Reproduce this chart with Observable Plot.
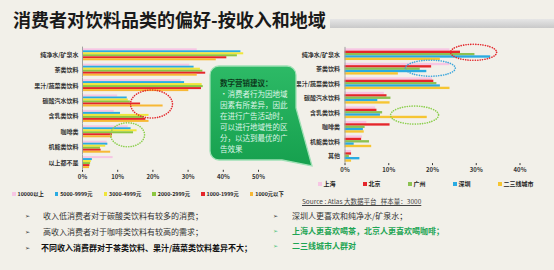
<!DOCTYPE html>
<html><head><meta charset="utf-8">
<script src="https://cdn.jsdelivr.net/npm/d3@7"></script>
<script src="https://cdn.jsdelivr.net/npm/@observablehq/plot@0.6"></script>
<style>
html,body{margin:0;padding:0;background:#f2f0e9;}
#root{position:relative;width:554px;height:270px;overflow:hidden;background:#f2f0e9;font-family:"Noto Sans CJK SC","Noto Sans",sans-serif;}
.abs{position:absolute;white-space:nowrap;}
#title{left:13px;top:10px;font-size:18px;font-weight:bold;color:#1a1a1a;line-height:18px;}
#titlebar{left:330px;top:19px;width:224px;height:9px;background:linear-gradient(#e6e6e6,#c9c9c9);}
.chart{position:absolute;}
.legend{position:absolute;font-size:5.3px;font-weight:bold;color:#222;line-height:8px;display:flex;align-items:center;}
.legend .it{display:flex;align-items:center;}
.legend .sw{width:3.5px;height:3.5px;margin-right:2px;display:inline-block;}
#box{position:absolute;left:0;top:0;pointer-events:none;}
.boxt{position:absolute;font-size:7.5px;line-height:11px;color:#dff5e8;white-space:nowrap;}
#source{left:302px;top:196px;font-size:6.5px;color:#444;text-decoration:underline;line-height:10px;}
.bl{position:absolute;font-size:8px;line-height:10px;color:#333;white-space:nowrap;}
.ar{position:absolute;font-size:6px;line-height:10px;color:#333;font-family:"DejaVu Sans",sans-serif;}
</style></head><body><div id="root">
<div id="title" class="abs">消费者对饮料品类的偏好-按收入和地域</div>
<div id="titlebar" class="abs"></div>
<div id="left" class="chart" style="left:0;top:42px"></div>
<div id="right" class="chart" style="left:270px;top:42px"></div>
<div id="legL" class="legend" style="left:12px;top:190px"></div>
<div id="legR" class="legend" style="left:318px;top:180px"></div>
<svg id="box" width="554" height="270">
 <defs><linearGradient id="gg" x1="0" y1="0" x2="0" y2="1"><stop offset="0" stop-color="#2dba66"/><stop offset="1" stop-color="#16a04e"/></linearGradient></defs>
 <path d="M219,66 L287,66 A9,9 0 0 1 296,75 L296,108 L312,166 L282,160 L219,160 A9,9 0 0 1 210,151 L210,75 A9,9 0 0 1 219,66 Z" fill="url(#gg)" stroke="#9fe0b5" stroke-width="1.3"/>
</svg>
<div class="boxt" style="left:220px;top:77px;color:#0c3a1c;font-weight:bold;">数字营销建议：</div>
<div class="boxt" style="left:220px;top:88px;">•消费者行为因地域<br>因素有所差异，因此<br>在进行广告活动时，<br>可以进行地域性的区<br>分，以达到最优的广<br>告效果</div>
<div id="source" class="abs">Source : Atlas 大数据平台 &nbsp;&nbsp;样本量：3000</div>
<div class="ar" style="left:25px;top:211px">➢</div><div class="bl" style="left:43px;top:211px">收入低消费者对于碳酸类饮料有较多的消费；</div>
<div class="ar" style="left:25px;top:227px">➢</div><div class="bl" style="left:43px;top:227px">高收入消费者对于咖啡类饮料有较高的需求；</div>
<div class="ar" style="left:25px;top:243px">➢</div><div class="bl" style="left:41px;top:243px;font-weight:bold;color:#111">不同收入消费群对于茶类饮料、果汁/蔬菜类饮料差异不大；</div>
<div class="ar" style="left:273px;top:211px">➢</div><div class="bl" style="left:292px;top:211px">深圳人更喜欢和纯净水/矿泉水；</div>
<div class="ar" style="left:273px;top:226px;color:#4cc27a">➢</div><div class="bl" style="left:292px;top:226px;font-weight:bold;color:#1ea554">上海人更喜欢喝茶，北京人更喜欢喝咖啡；</div>
<div class="ar" style="left:273px;top:241px;color:#4cc27a">➢</div><div class="bl" style="left:292px;top:241px;font-weight:bold;color:#1ea554">二三线城市人群对</div>
</div>
<script>
// ---- data: by income ----
const incomeCats = ["纯净水/矿泉水","茶类饮料","果汁/蔬菜类饮料","碳酸汽水饮料","含乳类饮料","咖啡类","机能类饮料","以上都不是"];
const incomeSeries = ["10000以上","5000-9999元","3000-4999元","2000-2999元","1000-1999元","1000元以下"];
const incomeColors = ["#f7c6e4","#2aabe2","#f0e63a","#8cc63f","#e5262b","#f7b835"];
const inc10000 = [32.6,30.5,28,10,9,13,7,8.7];
const inc5000  = [45,31.7,29,12.7,10.8,13.8,7.2,2.8];
const inc3000  = [45.8,33.5,34,13,18.9,15.5,6.6,2.5];
const inc2000  = [44,34.2,34.3,13.6,17.4,14.5,5.1,2.3];
const inc1000  = [41,35,33.8,16.5,18,8.5,5.3,2.1];
const incBelow = [38,32.6,30.2,22.9,18.9,8.5,8,2];
const incomeTicks = [0,10,20,30,40,50];

// ---- data: by region ----
const regionCats = ["纯净水/矿泉水","茶类饮料","果汁/蔬菜类饮料","碳酸汽水饮料","含乳类饮料","咖啡类","机能类饮料","其他"];
const regionSeries = ["上海","北京","广州","深圳","二三线城市"];
const regionColors = ["#f7c6e4","#e5262b","#8cc152","#2aabe2","#f6c532"];
const shanghai  = [24,24,20,9,7,5,4,1.5];
const beijing   = [26.4,19.8,20.3,9.6,7.3,10.3,3.8,1.5];
const guangzhou = [29.7,17.2,21,10.5,8.6,4.6,5.6,1];
const shenzhen  = [33.3,18.7,21.8,7.5,8.1,4.2,2.1,3.4];
const tier23    = [21.8,12.2,24,10.3,18.8,4.4,6.1,1.5];
const regionTicks = [0,10,20,30,40];

// ---- annotations (dotted ellipses) ----
const incomeNotes = [
  {cat:"碳酸汽水饮料", series:"1000-1999元", value:19.6},
  {cat:"咖啡类", series:"1000-1999元", value:12.8}
];
const regionNotes = [
  {cat:"纯净水/矿泉水", series:"北京", value:29.4},
  {cat:"茶类饮料", series:"广州", value:19.5},
  {cat:"含乳类饮料", series:"深圳", value:15.9}
];

const incomeValues = [inc10000,inc5000,inc3000,inc2000,inc1000,incBelow];
const regionValues = [shanghai,beijing,guangzhou,shenzhen,tier23];
const incomeRows = incomeSeries.flatMap((s,i)=>incomeCats.map((c,j)=>({cat:c,series:s,value:incomeValues[i][j]})));
const regionRows = regionSeries.flatMap((s,i)=>regionCats.map((c,j)=>({cat:c,series:s,value:regionValues[i][j]})));

function ellipse(rx, ry){
  const k = 0.5523;
  return {draw(ctx){
    ctx.moveTo(rx,0);
    ctx.bezierCurveTo(rx,ry*k,rx*k,ry,0,ry);
    ctx.bezierCurveTo(-rx*k,ry,-rx,ry*k,-rx,0);
    ctx.bezierCurveTo(-rx,-ry*k,-rx*k,-ry,0,-ry);
    ctx.bezierCurveTo(rx*k,-ry,rx,-ry*k,rx,0);
    ctx.closePath();
  }};
}
function note(d, rx, ry, color, dy){
  return Plot.dot([d], {x:"value", y:"series", fy:"cat", dy: dy||0, symbol: ellipse(rx,ry), fill:"none",
    stroke: color, strokeWidth: 1.6, strokeDasharray: "0.1 2.3", strokeLinecap: "round"});
}
const style = {fontFamily:'"Noto Sans CJK SC","Noto Sans",sans-serif', fontSize:"6px", fontWeight:"bold", color:"#333", background:"transparent", overflow:"visible"};

const left = Plot.plot({
  width: 275, height: 148,
  marginLeft: 82, marginRight: 17, marginTop: 4.6, marginBottom: 20.2,
  style,
  x: {domain:[0,50], ticks: incomeTicks, tickFormat: d=>d+"%", tickSize: 2, tickPadding: 2, label: null},
  y: {domain: incomeSeries, axis: null, paddingInner: 0, paddingOuter: 0.85, round: false},
  fy: {domain: incomeCats, padding: 0, axis: "left", label: null, tickSize: 0, tickPadding: 4, round: false},
  color: {domain: incomeSeries, range: incomeColors},
  marks: [
    Plot.barX(incomeRows, {x:"value", y:"series", fy:"cat", fill:"series"}),
    Plot.ruleX([0], {stroke:"#a0a0a0"}),
    note(incomeNotes[0], 21, 14, "#e3262b", 0),
    note(incomeNotes[1], 17, 12, "#8ccf4d", 0)
  ]
});
document.getElementById("left").appendChild(left);

const right = Plot.plot({
  width: 284, height: 135,
  marginLeft: 74.5, marginRight: 34.5, marginTop: 4.9, marginBottom: 13.9,
  style,
  x: {domain:[0,40], ticks: regionTicks, tickFormat: d=>d+"%", tickSize: 2, tickPadding: 2, label: null},
  y: {domain: regionSeries, axis: null, paddingInner: 0, paddingOuter: 0.6, round: false},
  fy: {domain: regionCats, padding: 0, axis: "left", label: null, tickSize: 0, tickPadding: 5, round: false},
  color: {domain: regionSeries, range: regionColors},
  marks: [
    Plot.barX(regionRows, {x:"value", y:"series", fy:"cat", fill:"series"}),
    Plot.ruleX([0], {stroke:"#a0a0a0"}),
    note(regionNotes[0], 23, 8, "#e3262b", 0),
    note(regionNotes[1], 25, 8, "#3aa6dc", -1),
    note(regionNotes[2], 24, 9, "#8ccf4d", 0)
  ]
});
document.getElementById("right").appendChild(right);

function legend(el, names, colors, gap, slot){
  const root = document.getElementById(el);
  names.forEach((n,i)=>{
    const it = document.createElement("div");
    it.className = "it";
    if (slot) it.style.width = slot + "px"; else it.style.marginRight = gap + "px";
    const sw = document.createElement("span");
    sw.className = "sw"; sw.style.background = colors[i];
    it.appendChild(sw);
    it.appendChild(document.createTextNode(n));
    root.appendChild(it);
  });
}
legend("legL", incomeSeries, incomeColors, 11, 0);
legend("legR", regionSeries, regionColors, 0, 45);
document.getElementById("legR").style.fontSize = "6px";
</script>
</body></html>
